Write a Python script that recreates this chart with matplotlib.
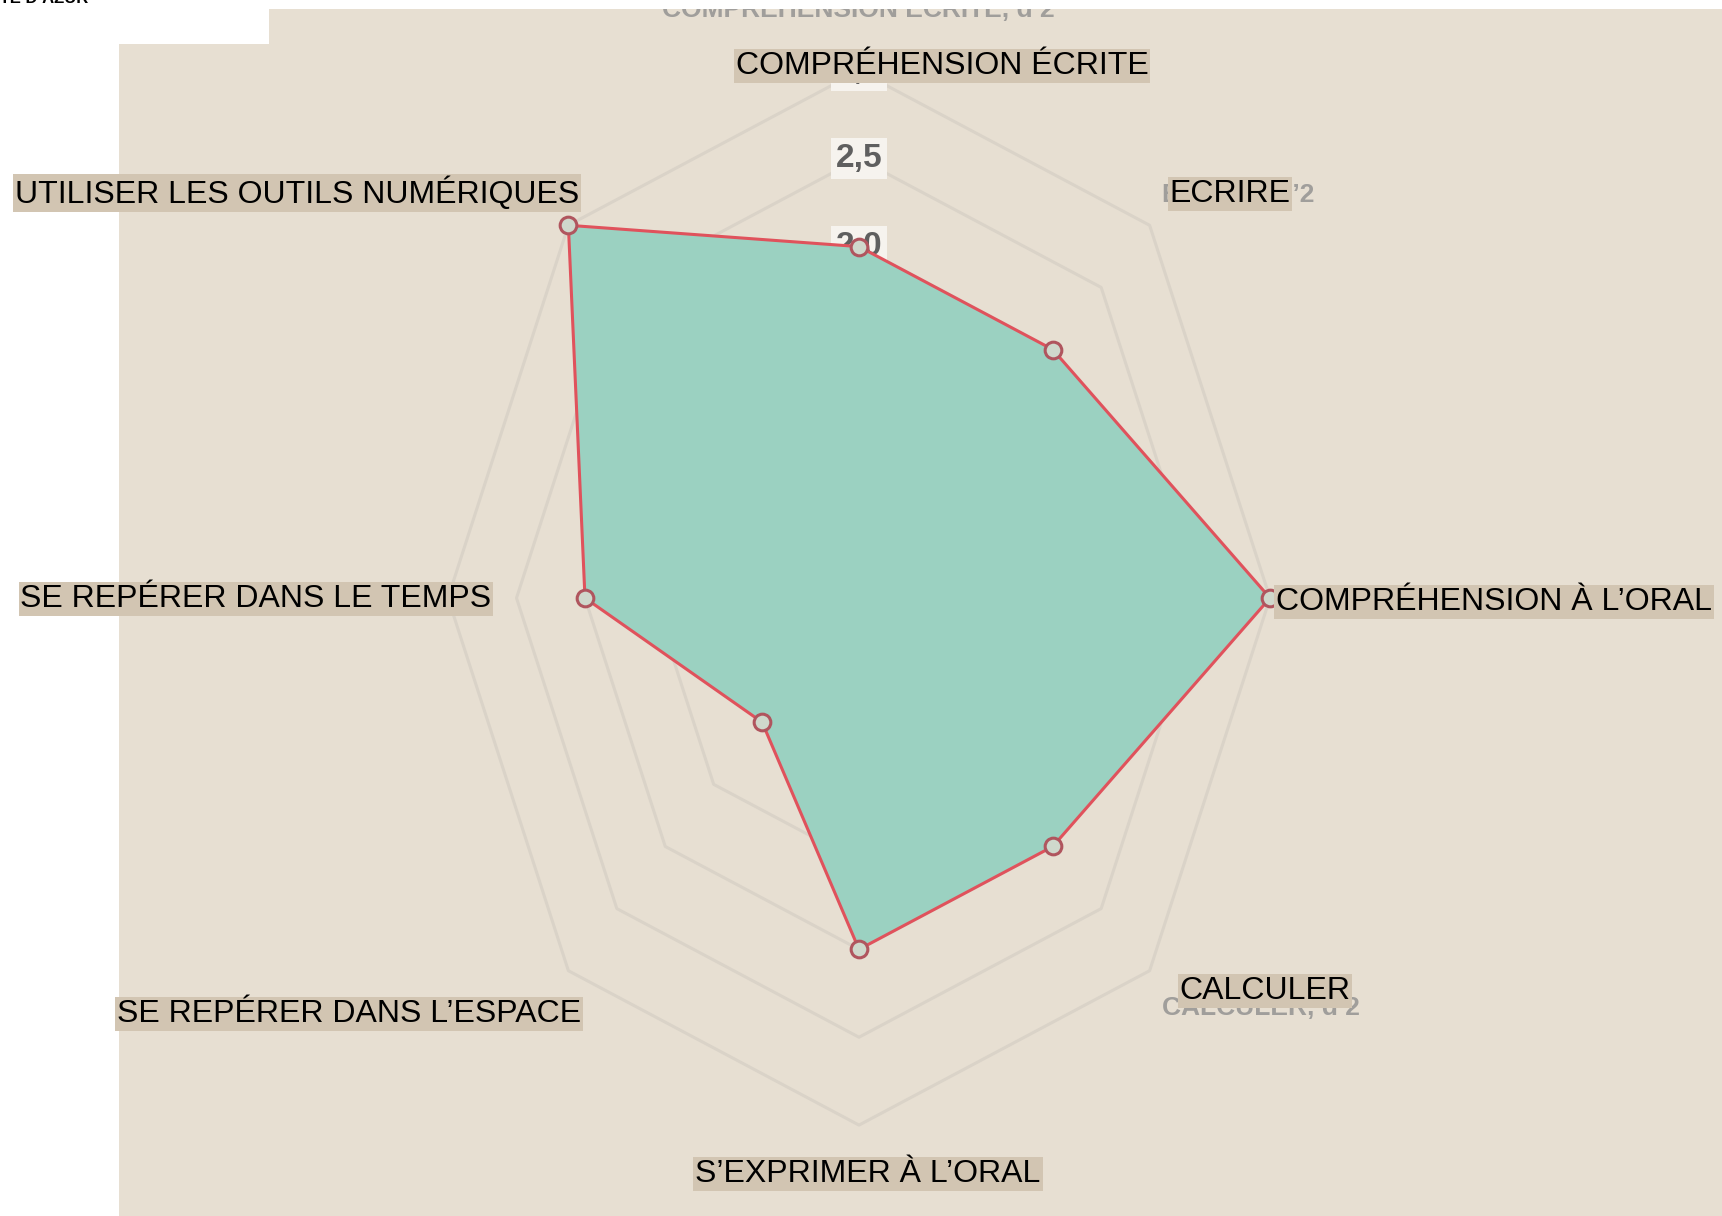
import numpy as np
import matplotlib.pyplot as plt
from matplotlib.patches import Polygon

# données du radar (sens horaire depuis le haut)
categories = ["COMPRÉHENSION ÉCRITE", "ECRIRE", "COMPRÉHENSION À L’ORAL", "CALCULER",
              "S’EXPRIMER À L’ORAL", "SE REPÉRER DANS L’ESPACE",
              "SE REPÉRER DANS LE TEMPS", "UTILISER LES OUTILS NUMÉRIQUES"]
values = [2.0, 2.0, 3.0, 2.0, 2.0, 1.0, 2.0, 3.0]
ring_levels = [0.5, 1.0, 1.5, 2.0, 2.5, 3.0]
tick_levels = [2.0, 2.5, 3.0]
tick_labels = ["2,0", "2,5", "3,0"]

# positions des étiquettes (centre de la boîte, en pixels de l'image)
label_pos = [(942, 66), (1230, 194), (1494, 602), (1265, 991),
             (868, 1174), (349, 1014), (256, 599), (297, 193)]

W, H = 1722, 1216
cx, cy = 859, 598          # centre du radar (px)
sx, sy = 137.0, 175.7      # px par unité, l'image d'origine est étirée

BEIGE = "#e7dfd2"
BOX = "#d2c5b2"
FILL = "#9bd1c1"
RED = "#e0525c"
RING = "#dad3c8"

fig = plt.figure(figsize=(W / 100, H / 100), dpi=100)
fig.patch.set_facecolor("white")

# fond
ax_bg = fig.add_axes([0, 0, 1, 1])
ax_bg.set_xlim(0, W)
ax_bg.set_ylim(H, 0)
ax_bg.axis("off")
ax_bg.add_patch(Polygon([(119, H), (119, 44), (269, 44), (269, 9), (W, 9), (W, H)],
                        closed=True, fc=BEIGE, ec="none", zorder=0))

ghost = dict(color="#8e8e8e", fontsize=19, fontweight="bold",
             family="Liberation Sans", alpha=0.8)
ax_bg.text(858, 17, "COMPRÉHENSION ÉCRITE, d’2", ha="center", va="baseline", zorder=1, **ghost)
ax_bg.text(1238, 194, "ÉCRIRE, d’2", ha="center", va="center", zorder=1, **ghost)
ax_bg.text(1261, 1008, "CALCULER, d’2", ha="center", va="center", zorder=1, **ghost)
ax_bg.add_patch(Polygon([(0, 0), (W, 0), (W, 9), (0, 9)], closed=True,
                        fc="white", ec="none", zorder=2))
ax_bg.text(88, 6, "CÔTE D’AZUR", ha="right", va="bottom", fontsize=12,
           fontweight="bold", family="Liberation Sans", color="black", zorder=3)

# radar
ax = fig.add_axes([0, 0, 1, 1])
ax.patch.set_alpha(0)
ax.set_xlim(-cx / sx, (W - cx) / sx)
ax.set_ylim(-(H - cy) / sy, cy / sy)
ax.axis("off")

n = len(categories)
theta = np.pi / 2 - np.arange(n) * 2 * np.pi / n
ux, uy = np.cos(theta), np.sin(theta)

for r in ring_levels:
    ax.plot(np.append(r * ux, r * ux[0]), np.append(r * uy, r * uy[0]),
            color=RING, lw=2.2, zorder=1)

for r, t in zip(tick_levels, tick_labels):
    ax.text(0, r, t, ha="center", va="center", fontsize=24, fontweight="bold",
            color="#5f5f5f", family="Liberation Sans",
            bbox=dict(boxstyle="square,pad=0.15", fc="#f6f3ee", ec="none"), zorder=2)

v = np.array(values)
px, py = v * ux, v * uy
ax.fill(px, py, color=FILL, zorder=3)
ax.plot(np.append(px, px[0]), np.append(py, py[0]), color=RED, lw=2.2, zorder=4)
ax.plot(px, py, "o", ms=12, mfc="#cfd8cc", mec="#b0555e", mew=2.2, zorder=5)

# étiquettes superposées
ax_top = fig.add_axes([0, 0, 1, 1])
ax_top.patch.set_alpha(0)
ax_top.set_xlim(0, W)
ax_top.set_ylim(H, 0)
ax_top.axis("off")
for lab, (x, y) in zip(categories, label_pos):
    ax_top.text(x, y, lab, ha="center", va="center", fontsize=23,
                family="Liberation Sans", color="black",
                bbox=dict(boxstyle="square,pad=0.06", fc=BOX, ec="none"))

fig.savefig("out.png", dpi=100, facecolor="white")
